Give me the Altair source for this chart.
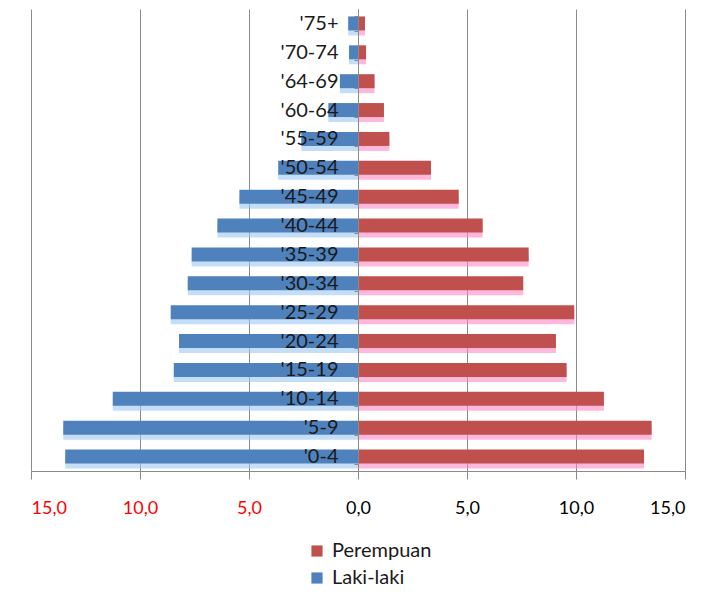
import altair as alt
import pandas as pd

# Age groups, top of the pyramid first
ages = ["'75+", "'70-74", "'64-69", "'60-64", "'55-59", "'50-54", "'45-49", "'40-44",
        "'35-39", "'30-34", "'25-29", "'20-24", "'15-19", "'10-14", "'5-9", "'0-4"]

# Share of population (%) per age group
laki_laki = [0.45, 0.41, 0.83, 1.36, 2.60, 3.66, 5.44, 6.45,
             7.63, 7.81, 8.59, 8.21, 8.45, 11.25, 13.52, 13.43]
perempuan = [0.32, 0.37, 0.76, 1.19, 1.44, 3.35, 4.62, 5.72,
             7.83, 7.58, 9.92, 9.08, 9.57, 11.28, 13.47, 13.12]

series = ["Perempuan", "Laki-laki"]
ticks = [-15, -10, -5, 0, 5, 10, 15]

rows = []
for a, m, f in zip(ages, laki_laki, perempuan):
    rows.append({"age": a, "sex": "Laki-laki", "value": -m})
    rows.append({"age": a, "sex": "Perempuan", "value": f})
df = pd.DataFrame(rows)

FONT = "Lato"
GRID = "#8a8a8a"

x_enc = alt.X(
    "value:Q",
    scale=alt.Scale(domain=[-15, 15], nice=False, zero=False),
    axis=alt.Axis(
        title=None,
        values=ticks,
        grid=True,
        gridColor=GRID,
        gridWidth=1,
        domainColor=GRID,
        tickColor=GRID,
        tickSize=8,
        labelPadding=20,
        labelFontSize=18,
        labelFont=FONT,
        labelExpr="replace(format(abs(datum.value), '.1f'), '.', ',')",
        labelColor={"condition": {"test": "datum.value < 0", "value": "#ff0000"},
                    "value": "#000000"},
    ),
)

y_enc = alt.Y(
    "age:N",
    sort=ages,
    scale=alt.Scale(paddingInner=0.5, paddingOuter=0.25),
    axis=alt.Axis(
        title=None,
        offset=-327,
        domainColor=GRID,
        tickColor=GRID,
        tickSize=4,
        tickBand="extent",
        labelFontSize=20,
        labelFont=FONT,
        labelColor="#1a1a1a",
        labelPadding=16,
        grid=False,
        zindex=1,
    ),
)

base = alt.Chart(df)

# soft glow under each bar
glow = base.mark_bar(size=14, yOffset=5, opacity=0.6).encode(
    x=x_enc,
    y=y_enc,
    color=alt.condition("datum.sex == 'Perempuan'", alt.value("#ff88c4"), alt.value("#9cc8f2")),
)

bars = base.mark_bar(size=14).encode(
    x=x_enc,
    y=y_enc,
    color=alt.Color(
        "sex:N",
        scale=alt.Scale(domain=series, range=["#c0504d", "#4f81bd"]),
        legend=alt.Legend(
            title=None,
            orient="none",
            legendX=276,
            legendY=532,
            direction="vertical",
            symbolType="square",
            symbolSize=125,
            symbolStrokeWidth=0,
            labelFontSize=20,
            labelFont=FONT,
            labelColor="#1a1a1a",
            labelOffset=5,
            rowPadding=7,
        ),
    ),
)

chart = (
    alt.layer(glow, bars)
    .properties(
        width=654,
        height=462,
        autosize=alt.AutoSizeParams(type="none"),
        padding={"left": 31, "top": 9, "right": 23, "bottom": 123},
        background="white",
    )
    .configure_view(stroke=None)
)

chart.save("out.html", embed_options={"renderer": "svg", "actions": False})
